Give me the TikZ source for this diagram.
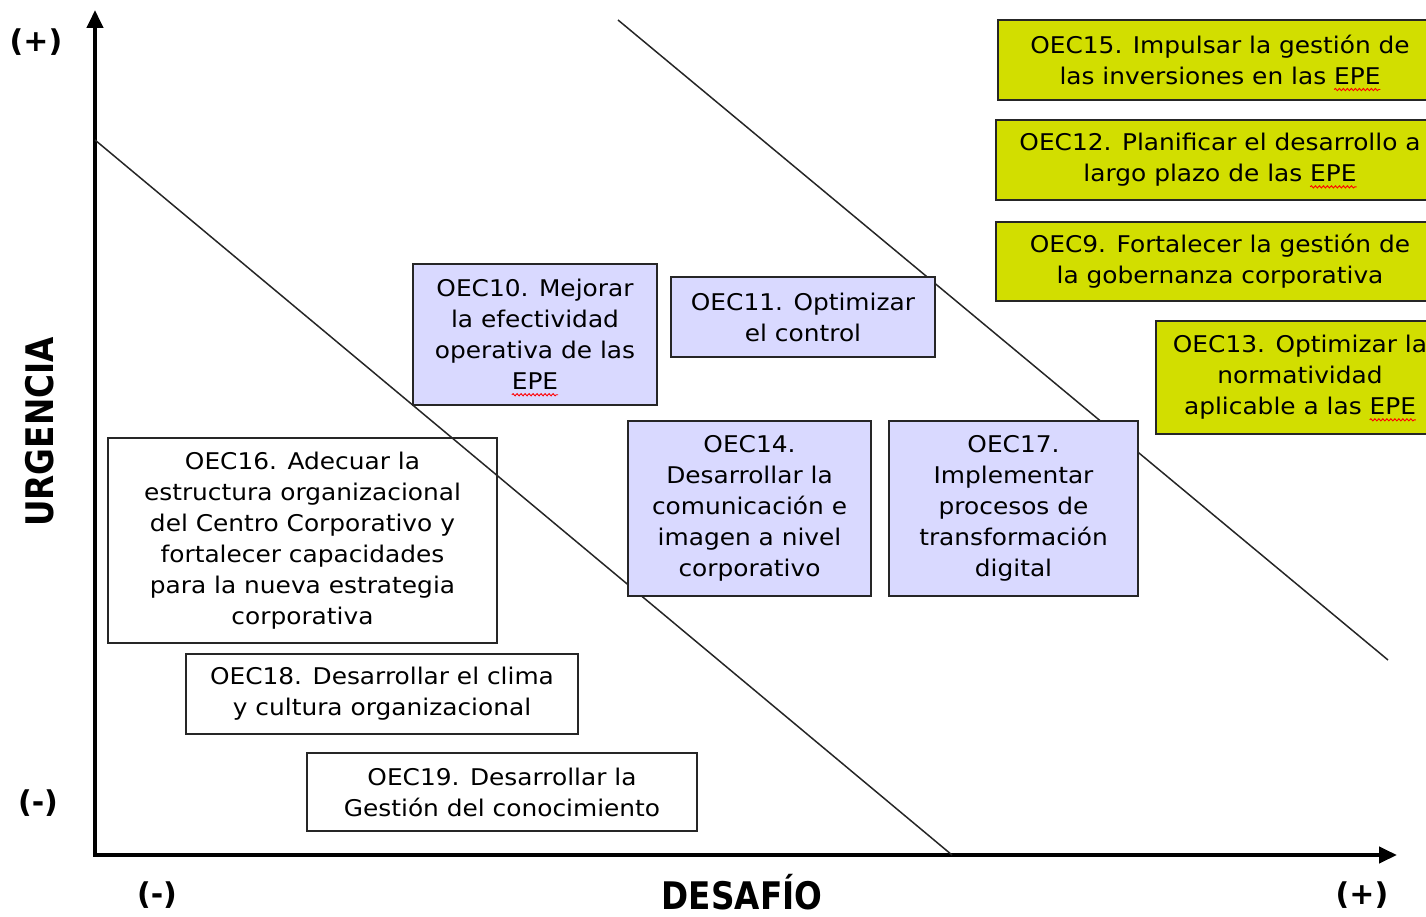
\documentclass[tikz,border=0pt]{standalone}
\usepackage{fontspec}
\setmainfont{DejaVu Sans}
\newfontfamily\boxfont{DejaVu Sans}[FakeStretch=1.08]
\usetikzlibrary{arrows.meta,decorations.pathmorphing}
\definecolor{ylw}{RGB}{210,222,0}
\definecolor{lav}{RGB}{217,217,255}
\newcommand{\spell}[1]{\tikz[baseline=(w.base)]{\node[inner sep=0pt,outer sep=0pt,minimum width=0pt,minimum height=0pt,draw=none,fill=none] (w) {#1};
  \draw[overlay,red,line width=0.9pt,decorate,decoration={snake,amplitude=1.1pt,segment length=4pt}]
    ([yshift=-5pt]w.base west) -- ([yshift=-5pt]w.base east);}}
\newcommand{\axlabel}[1]{\scalebox{0.86}[1]{\fontsize{38}{40}\selectfont\bfseries #1}}
\begin{document}
\begin{tikzpicture}[x=1pt,y=-1pt,
  box/.style={draw=black!85, line width=1.4pt, align=center, inner sep=0pt,
    font=\boxfont\fontsize{23}{31}\selectfont, text=black},
  ybox/.style={box, fill=ylw, line width=1.8pt},
  lbox/.style={box, fill=lav, line width=1.8pt},
  wbox/.style={box},
  axis/.style={line width=4pt, {Triangle[length=18pt,width=16pt]}-{Triangle[length=18pt,width=16pt]}},
  diag/.style={line width=1.5pt, black!85},
  sign/.style={font=\fontsize{30}{32}\selectfont\bfseries}]
\useasboundingbox (0,0) rectangle (1426,917);
% axes
\coordinate (ytop) at (95,10);
\coordinate (origin) at (95,855);
\coordinate (xend) at (1397,855);
\draw[axis] (ytop) -- (origin) -- (xend);
% diagonals
\coordinate (d1a) at (95,140);
\coordinate (d1b) at (952,855);
\coordinate (d2a) at (618,20);
\coordinate (d2b) at (1388,660);
\draw[diag] (d1a) -- (d1b);
\draw[diag] (d2a) -- (d2b);
% axis labels
\node[sign] (ypl) at (36,42) {(+)};
\node[sign] (ymi) at (38,803) {(-)};
\node[sign] (xmi) at (157,895) {(-)};
\node[sign] (xpl) at (1362,895) {(+)};
\node[rotate=90] (urg) at (40,432) {\axlabel{URGENCIA}};
\node (des) at (742,892) {\axlabel{DESAFÍO}};
% yellow boxes
\node[ybox, minimum width=444pt, minimum height=80pt] (oec15) at (1220,60)
  {OEC15. Impulsar la gestión de\\las inversiones en las \spell{EPE}};
\node[ybox, minimum width=448pt, minimum height=80pt] (oec12) at (1220,160)
  {OEC12. Planificar el desarrollo a\\largo plazo de las \spell{EPE}};
\node[ybox, minimum width=448pt, minimum height=79pt] (oec9) at (1220,261.5)
  {OEC9. Fortalecer la gestión de\\la gobernanza corporativa};
\node[ybox, minimum width=288pt, minimum height=113pt] (oec13) at (1300,377.5)
  {OEC13. Optimizar la\\normatividad\\aplicable a las \spell{EPE}};
% lavender boxes
\node[lbox, minimum width=244pt, minimum height=141pt] (oec10) at (535,334.5)
  {OEC10. Mejorar\\la efectividad\\operativa de las\\\spell{EPE}};
\node[lbox, minimum width=264pt, minimum height=80pt] (oec11) at (803,317)
  {OEC11. Optimizar\\el control};
\node[lbox, minimum width=243pt, minimum height=175pt] (oec14) at (749.5,508.5)
  {OEC14.\\Desarrollar la\\comunicación e\\imagen a nivel\\corporativo};
\node[lbox, minimum width=249pt, minimum height=175pt] (oec17) at (1013.5,508.5)
  {OEC17.\\Implementar\\procesos de\\transformación\\digital};
% white boxes
\node[wbox, minimum width=389pt, minimum height=205pt] (oec16) at (302.5,540.5)
  {OEC16. Adecuar la\\estructura organizacional\\del Centro Corporativo y\\fortalecer capacidades\\para la nueva estrategia\\corporativa};
\node[wbox, minimum width=392pt, minimum height=80pt] (oec18) at (382,694)
  {OEC18. Desarrollar el clima\\y cultura organizacional};
\node[wbox, minimum width=390pt, minimum height=78pt] (oec19) at (502,792)
  {OEC19. Desarrollar la\\Gestión del conocimiento};
\end{tikzpicture}
\end{document}
